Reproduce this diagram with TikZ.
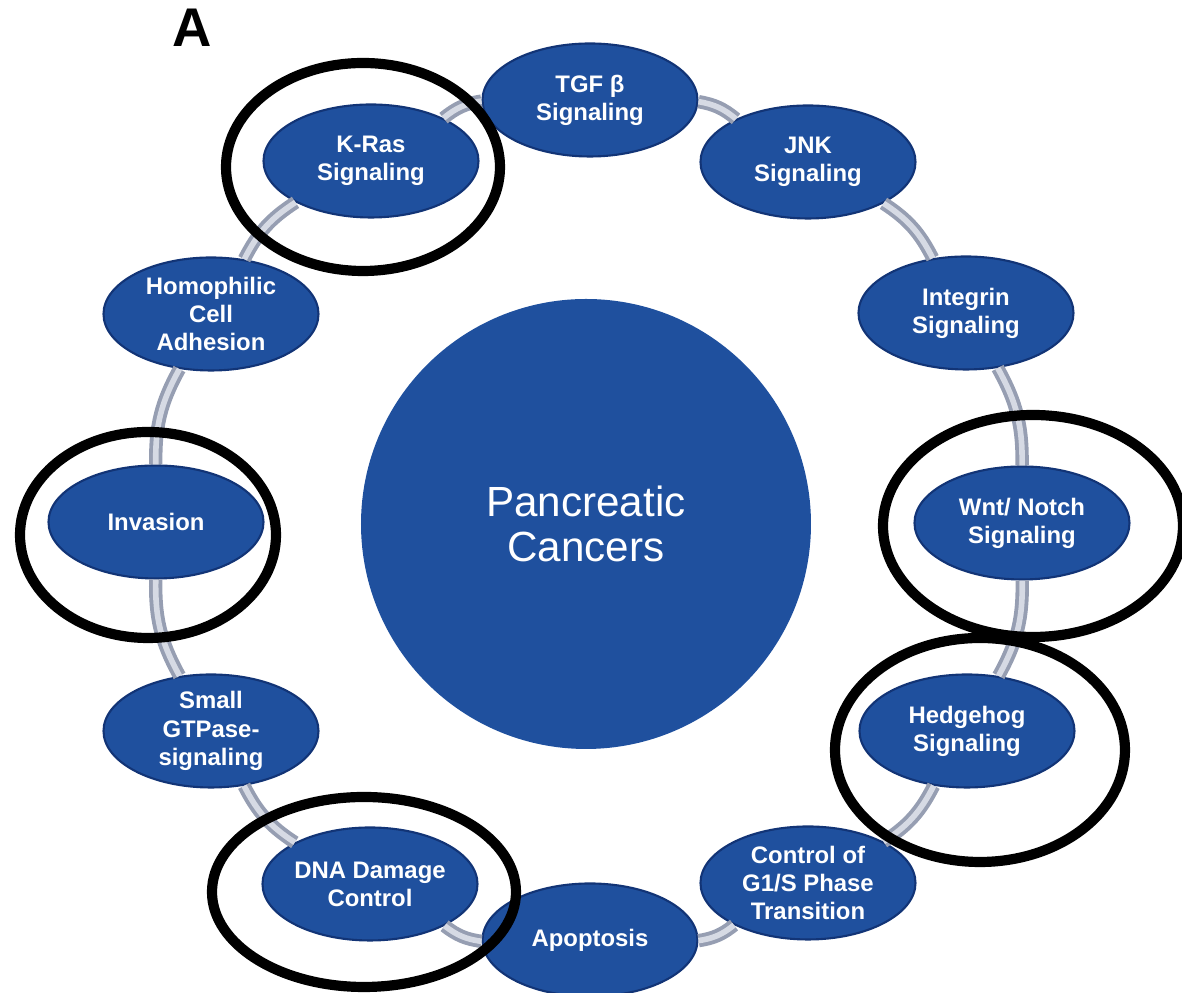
\documentclass[tikz,border=0pt]{standalone}
\usepackage{fontspec}
\setmainfont{Liberation Sans}
\usetikzlibrary{shapes.geometric}
\definecolor{padblue}{RGB}{31,80,158}
\definecolor{paddark}{RGB}{18,52,118}
\definecolor{tubegray}{RGB}{150,158,178}
\definecolor{tubelight}{RGB}{214,218,228}
\tikzstyle{Pathway}=[ellipse, minimum width=2.15cm, minimum height=1.13cm, inner sep=0pt, fill=padblue, draw=paddark, line width=0.6pt, text=white, align=center, font=\bfseries\fontsize{6.8}{8}\selectfont]
\tikzstyle{Hub}=[circle, minimum size=4.5cm, fill=padblue, text=white, align=center, font=\fontsize{12}{13}\selectfont]
\tikzstyle{Tube}=[draw=tubegray, line width=1.1pt, double=tubelight, double distance=1.6pt]
\tikzstyle{Mark}=[draw=black, line width=2.9pt]

\begin{document}
\begin{tikzpicture}
    \useasboundingbox (0,0) rectangle (11.82,9.93);
    \path
    (5.86,4.69) node[Hub] (hub) {Pancreatic\\Cancers}
    (1.92,9.65) node[font=\bfseries\fontsize{15.5}{16}\selectfont] (panel) {A};

    \path
    (5.90,8.93) node[Pathway] (tgf) {TGF β\\Signaling}
    (8.08,8.31) node[Pathway] (jnk) {JNK\\Signaling}
    (9.66,6.80) node[Pathway] (integrin) {Integrin\\Signaling}
    (10.22,4.70) node[Pathway] (wnt) {Wnt/ Notch\\Signaling}
    (9.67,2.62) node[Pathway] (hedgehog) {Hedgehog\\Signaling}
    (8.08,1.10) node[Pathway] (cellcycle) {Control of\\G1/S Phase\\Transition}
    (5.90,0.53) node[Pathway] (apoptosis) {Apoptosis}
    (3.70,1.09) node[Pathway] (dna) {DNA Damage\\Control}
    (2.11,2.62) node[Pathway] (gtpase) {Small\\GTPase-\\signaling}
    (1.56,4.71) node[Pathway] (invasion) {Invasion}
    (2.11,6.79) node[Pathway] (adhesion) {Homophilic\\Cell\\Adhesion}
    (3.71,8.32) node[Pathway] (kras) {K-Ras\\Signaling};

    \draw[Tube] (tgf) to[bend left=15] (jnk);
    \draw[Tube] (jnk) to[bend left=15] (integrin);
    \draw[Tube] (integrin) to[bend left=15] (wnt);
    \draw[Tube] (wnt) to[bend left=15] (hedgehog);
    \draw[Tube] (hedgehog) to[bend left=15] (cellcycle);
    \draw[Tube] (cellcycle) to[bend left=15] (apoptosis);
    \draw[Tube] (apoptosis) to[bend left=15] (dna);
    \draw[Tube] (dna) to[bend left=15] (gtpase);
    \draw[Tube] (gtpase) to[bend left=15] (invasion);
    \draw[Tube] (invasion) to[bend left=15] (adhesion);
    \draw[Tube] (adhesion) to[bend left=15] (kras);
    \draw[Tube] (kras) to[bend left=15] (tgf);

    \draw[Mark] (3.63,8.26) ellipse (1.37 and 1.04);
    \draw[Mark] (1.48,4.58) ellipse (1.28 and 1.03);
    \draw[Mark] (10.33,4.67) ellipse (1.50 and 1.11);
    \draw[Mark] (9.80,2.43) ellipse (1.45 and 1.12);
    \draw[Mark] (3.64,1.01) ellipse (1.52 and 0.95);
\end{tikzpicture}
\end{document}
